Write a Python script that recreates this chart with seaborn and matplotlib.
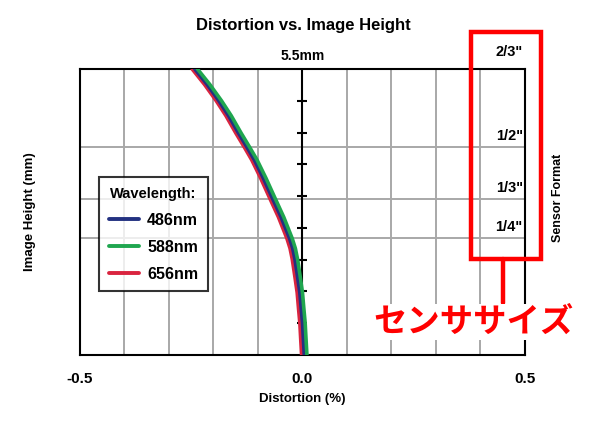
import numpy as np
import pandas as pd
import matplotlib
matplotlib.use("Agg")
import matplotlib.pyplot as plt
from matplotlib.patches import Rectangle
from matplotlib.lines import Line2D
import seaborn as sns

# image height (mm) and distortion (%)
heights = [0.0, 0.3, 0.62, 0.9, 1.2, 1.5, 1.84, 2.05, 2.24, 2.65, 3.06, 3.4, 3.75,
           4.0, 4.27, 4.6, 4.89, 5.2, 5.5]
dist_486 = [0.004, 0.002, 0.000, -0.003, -0.006, -0.011, -0.017, -0.022, -0.029, -0.048,
            -0.070, -0.088, -0.108, -0.125, -0.144, -0.166, -0.188, -0.214, -0.242]
dist_588 = [0.010, 0.008, 0.006, 0.003, 0.000, -0.005, -0.011, -0.016, -0.023, -0.042,
            -0.064, -0.082, -0.102, -0.119, -0.138, -0.160, -0.182, -0.208, -0.236]
dist_656 = [-0.002, -0.004, -0.006, -0.009, -0.012, -0.017, -0.023, -0.028, -0.035, -0.054,
            -0.076, -0.094, -0.114, -0.131, -0.150, -0.172, -0.194, -0.220, -0.248]
wavelengths = ["486nm", "588nm", "656nm"]
colors = ["#233181", "#1fa64f", "#d9243f"]

sensor_labels = ['2/3"', '1/2"', '1/3"', '1/4"']
sensor_heights = [5.5, 4.0, 3.0, 2.25]

sns.set_style("white")
plt.rcParams['font.family'] = ['Liberation Sans', 'DejaVu Sans']
plt.rcParams['text.color'] = 'black'
plt.rcParams['axes.labelcolor'] = 'black'
plt.rcParams['xtick.color'] = 'black'

rows = []
for name, vals in zip(wavelengths, [dist_486, dist_588, dist_656]):
    for h, d in zip(heights, vals):
        rows.append({"Wavelength": name, "height": h, "distortion": d})
df = pd.DataFrame(rows)

fig = plt.figure(figsize=(6, 4.23), dpi=100)
ax = fig.add_axes([0.1333, 0.1608, 0.7417, 0.6761])

# grid
for x in np.arange(-0.4, 0.41, 0.1):
    if abs(x) > 1e-9:
        ax.axvline(x, color="#a8a8a8", lw=1.4, zorder=1)
for h in sensor_heights[1:]:
    ax.axhline(h, color="#a8a8a8", lw=1.4, zorder=1)
ax.axvline(0, color="black", lw=1.5, zorder=2)
tick_h = np.linspace(0, 5.5, 10)[1:-1]
ax.plot(np.zeros_like(tick_h), tick_h, ls="none", marker="_", ms=7, mew=1.5,
        color="black", zorder=2)

# curves: red drawn first, green on top
order = ["656nm", "486nm", "588nm"]
for name in order:
    sub = df[df["Wavelength"] == name]
    sns.lineplot(data=sub, x="distortion", y="height", sort=False, ax=ax,
                 color=colors[wavelengths.index(name)], lw=2.6, zorder=3)

ax.set_xlim(-0.5, 0.5)
ax.set_ylim(0, 5.5)
for s in ax.spines.values():
    s.set_color("black")
    s.set_linewidth(1.5)
    s.set_visible(True)

xt = np.round(np.arange(-0.5, 0.501, 0.05), 2)
ax.set_xticks(xt)
ax.set_xticklabels(["-0.5" if v == -0.5 else "0.0" if v == 0 else "0.5" if v == 0.5 else ""
                    for v in xt], fontsize=11, fontweight="bold")
ax.tick_params(axis="x", direction="out", length=7, width=1.5, color="black", pad=5)
ax.set_yticks([])
ax.set_xlabel("Distortion (%)", fontsize=9.5, fontweight="bold", labelpad=5)
ax.set_ylabel("Image Height (mm)", fontsize=9.5, fontweight="bold", labelpad=32)

ax.text(0, 5.5 + 0.12, "5.5mm", ha="center", va="bottom", fontsize=10, fontweight="bold")
for lab, h in zip(sensor_labels, sensor_heights):
    ax.text(0.495, h + 0.08 + (0.12 if h == 5.5 else 0), lab, ha="right", va="bottom",
            fontsize=10.5, fontweight="bold")
ax.text(1.075, 0.55, "Sensor Format", transform=ax.transAxes, rotation=90,
        ha="center", va="center", fontsize=9, fontweight="bold")

fig.text(0.505, 0.94, "Distortion vs. Image Height", ha="center", va="center",
         fontsize=12, fontweight="bold")

handles = [Line2D([], [], color=c, lw=2.8) for c in colors]
leg = ax.legend(handles, wavelengths, title="Wavelength:", loc="upper left",
                bbox_to_anchor=(0.043, 0.622), frameon=True, fancybox=False,
                edgecolor="black", fontsize=11.5, handlelength=1.9, handletextpad=0.5,
                borderpad=0.6, labelspacing=0.75, borderaxespad=0)
leg.get_title().set_fontweight("bold")
leg.get_title().set_fontsize(10.5)
leg.get_frame().set_linewidth(1.5)
for t in leg.get_texts():
    t.set_fontweight("bold")
leg.set_zorder(5)

# red annotation
W, H = 600, 423
fig.patches.append(Rectangle((471 / W, 1 - 259 / H), 70 / W, 227 / H, fill=False,
                             edgecolor="#ff0000", lw=3.2, transform=fig.transFigure))
fig.lines.append(Line2D([503 / W, 503 / W], [1 - 259 / H, 1 - 303 / H], color="#ff0000",
                        lw=3.2, transform=fig.transFigure))
fig.text(473 / W, 1 - 322 / H, "センササイズ", ha="center", va="center", fontsize=24,
         color="#ff0000", family=["Noto Sans CJK JP", "DejaVu Sans"], fontweight="bold",
         bbox=dict(facecolor="white", edgecolor="none", pad=1))

fig.savefig("out.png", dpi=100)
